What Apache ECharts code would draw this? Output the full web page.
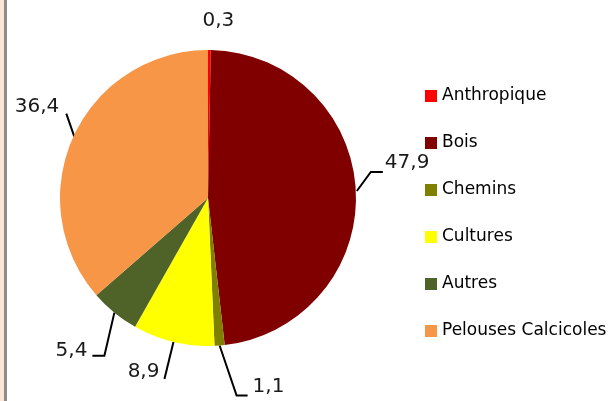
<!DOCTYPE html>
<html>
<head>
<meta charset="utf-8">
<script src="https://cdn.jsdelivr.net/npm/echarts@6/dist/echarts.min.js"></script>
<style>
  html, body { margin: 0; padding: 0; background: #fff; }
  #strip { position: absolute; left: 0; top: 0; width: 4px; height: 401px; background: #fbe5d6; }
  #edge { position: absolute; left: 4px; top: 0; width: 3px; height: 401px; background: #8c8c8c; }
  #main { position: absolute; left: 0; top: 0; width: 611px; height: 401px; }
</style>
</head>
<body>
<div id="strip"></div>
<div id="edge"></div>
<div id="main"></div>
<script>
// occupation du sol (%)
const categories = ['Anthropique', 'Bois', 'Chemins', 'Cultures', 'Autres', 'Pelouses Calcicoles'];
const values = [0.3, 47.9, 1.1, 8.9, 5.4, 36.4];
const colors = ['#ff0000', '#800000', '#808000', '#ffff00', '#4f6228', '#f79646'];

// label tweaks, relative to the slice edge point given by echarts
// line: [start dx,dy], [elbow dx,dy], [end dx,dy]; label: [dx,dy]
const labelTweaks = [
  { line: null, label: [9, -29], align: 'center' },
  { line: [[1, 0], [15, -19], [27, -19]], label: [29, -28], align: 'left' },
  { line: [[0, 0], [17, 50], [28, 50]], label: [33, 41], align: 'left' },
  { line: [[0, 0], [-9, 37], [-9, 37]], label: [-14, 30], align: 'right' },
  { line: [[0, 0], [-10, 43], [-22, 43]], label: [-27, 38], align: 'right' },
  { line: [[1, 0], [-7, -23], [-7, -23]], label: [-14, -30], align: 'right' }
];

let chartDom = document.getElementById('main');
let myChart = echarts.init(chartDom);

let pieData = [];
for (let i = 0; i < categories.length; i++) {
  pieData.push({
    name: categories[i],
    value: values[i],
    itemStyle: { color: colors[i] },
    labelLine: { show: labelTweaks[i].line !== null }
  });
}

let option = {
  animation: false,
  legend: {
    orient: 'vertical',
    left: 425,
    top: 86,
    padding: 0,
    itemWidth: 12,
    itemHeight: 12,
    itemGap: 27,
    icon: 'rect',
    data: categories,
    textStyle: {
      fontFamily: 'DejaVu Sans',
      fontSize: 17,
      lineHeight: 20,
      color: '#000'
    }
  },
  series: [
    {
      type: 'pie',
      center: [208, 198],
      radius: 148,
      startAngle: 90,
      clockwise: true,
      avoidLabelOverlap: false,
      itemStyle: { borderWidth: 0 },
      emphasis: { disabled: true },
      label: {
        show: true,
        position: 'outside',
        fontFamily: 'DejaVu Sans',
        fontSize: 20,
        color: '#1a1a1a',
        formatter: function (p) {
          return String(p.value).replace('.', ',');
        }
      },
      labelLine: {
        show: true,
        length: 10,
        length2: 10,
        lineStyle: { color: '#000', width: 2 }
      },
      labelLayout: function (params) {
        let t = labelTweaks[params.dataIndex];
        let p0 = params.labelLinePoints ? params.labelLinePoints[0] : [params.rect.x, params.rect.y];
        let res = {
          x: p0[0] + t.label[0],
          y: p0[1] + t.label[1],
          align: t.align,
          verticalAlign: 'middle'
        };
        if (t.line) {
          res.labelLinePoints = t.line.map(function (d) {
            return [p0[0] + d[0], p0[1] + d[1]];
          });
        }
        return res;
      },
      data: pieData
    }
  ]
};

option && myChart.setOption(option);
</script>
</body>
</html>
